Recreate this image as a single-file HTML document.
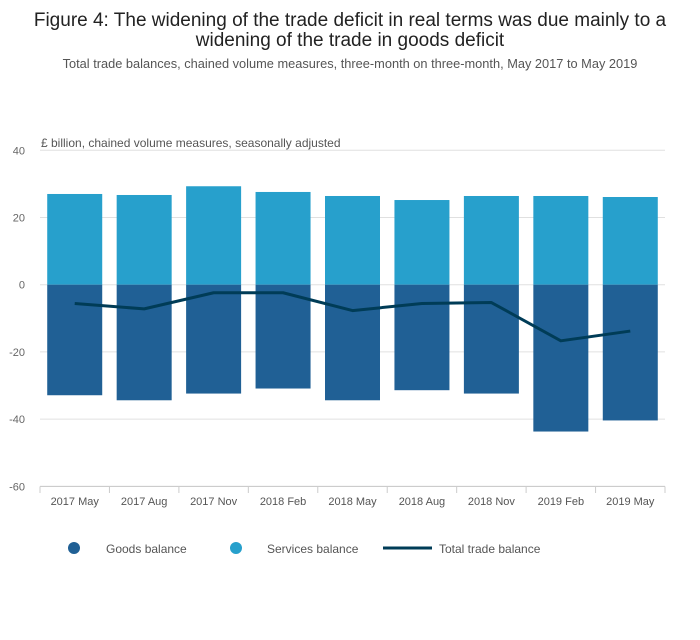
<!DOCTYPE html>
<html><head><meta charset="utf-8"><style>
body{margin:0;background:#fff;font-family:"Liberation Sans",sans-serif}
</style></head><body>
<svg width="700" height="635" xmlns="http://www.w3.org/2000/svg" font-family="Liberation Sans, sans-serif">
<text x="350" y="26" text-anchor="middle" font-size="19" fill="#222">Figure 4: The widening of the trade deficit in real terms was due mainly to a</text>
<text x="350" y="46" text-anchor="middle" font-size="19" fill="#222">widening of the trade in goods deficit</text>
<text x="350" y="68" text-anchor="middle" font-size="12.8" fill="#555">Total trade balances, chained volume measures, three-month on three-month, May 2017 to May 2019</text>
<text x="41" y="147" font-size="12" fill="#555">£ billion, chained volume measures, seasonally adjusted</text>
<g id="grid"></g><g id="bars"></g><g id="line"></g><g id="xaxis"></g>
<g>
<g><circle cx="74" cy="548" r="6" fill="#206095"/><text x="106" y="553" font-size="12" fill="#555">Goods balance</text></g>
<g><circle cx="236" cy="548" r="6" fill="#27a0cc"/><text x="267" y="553" font-size="12" fill="#555">Services balance</text></g>
<g><line x1="383" y1="548" x2="432" y2="548" stroke="#003c57" stroke-width="3"/><text x="439" y="553" font-size="12" fill="#555">Total trade balance</text></g>
</g>
</svg>
<script>
const categories=["2017 May","2017 Aug","2017 Nov","2018 Feb","2018 May","2018 Aug","2018 Nov","2019 Feb","2019 May"];
const goods=[-32.9,-34.4,-32.4,-30.9,-34.4,-31.4,-32.4,-43.7,-40.4];
const services=[27.0,26.7,29.3,27.6,26.4,25.2,26.4,26.4,26.1];
const total=[-5.6,-7.2,-2.4,-2.4,-7.7,-5.6,-5.3,-16.7,-13.8];
const yTicks=[40,20,0,-20,-40,-60];
const NS="http://www.w3.org/2000/svg";
const x0=40,x1=665,bw=(x1-x0)/categories.length,barW=55;
function y(v){return 284.7-v*3.36;}
function xc(i){return x0+bw*(i+0.5);}
function mk(t,a,p){const e=document.createElementNS(NS,t);for(const k in a)e.setAttribute(k,a[k]);p.appendChild(e);return e;}
const grid=document.getElementById('grid');
yTicks.forEach(v=>{
 const l=mk('line',{x1:x0,x2:x1,y1:y(v),y2:y(v),stroke:'#e0e0e0','stroke-width':1},grid);
 
 
 const t=mk('text',{x:25,y:y(v)+4,'text-anchor':'end','font-size':11,fill:'#666'},grid);
 t.textContent=v;
 
 
});
const bars=document.getElementById('bars');
categories.forEach((c,i)=>{
 const s=mk('rect',{x:xc(i)-barW/2,y:y(services[i]),width:barW,height:y(0)-y(services[i]),fill:'#27a0cc'},bars);
 
 
 const g=mk('rect',{x:xc(i)-barW/2,y:y(0),width:barW,height:y(goods[i])-y(0),fill:'#206095'},bars);
 
 
});
const ln=mk('polyline',{points:total.map((v,i)=>xc(i)+','+y(v)).join(' '),fill:'none',stroke:'#003c57','stroke-width':3,'stroke-linejoin':'round'},document.getElementById('line'));


const xa=document.getElementById('xaxis');
const ax=mk('line',{x1:x0,x2:x1,y1:486.5,y2:486.5,stroke:'#ccc'},xa);


for(let i=0;i<=categories.length;i++){
 const tk=mk('line',{x1:x0+bw*i,x2:x0+bw*i,y1:486.5,y2:493,stroke:'#ccc'},xa);
 
 
}
categories.forEach((c,i)=>{
 const t=mk('text',{x:xc(i),y:505,'text-anchor':'middle','font-size':11,fill:'#555'},xa);
 t.textContent=c;
 
 
});
</script>
</body></html>
